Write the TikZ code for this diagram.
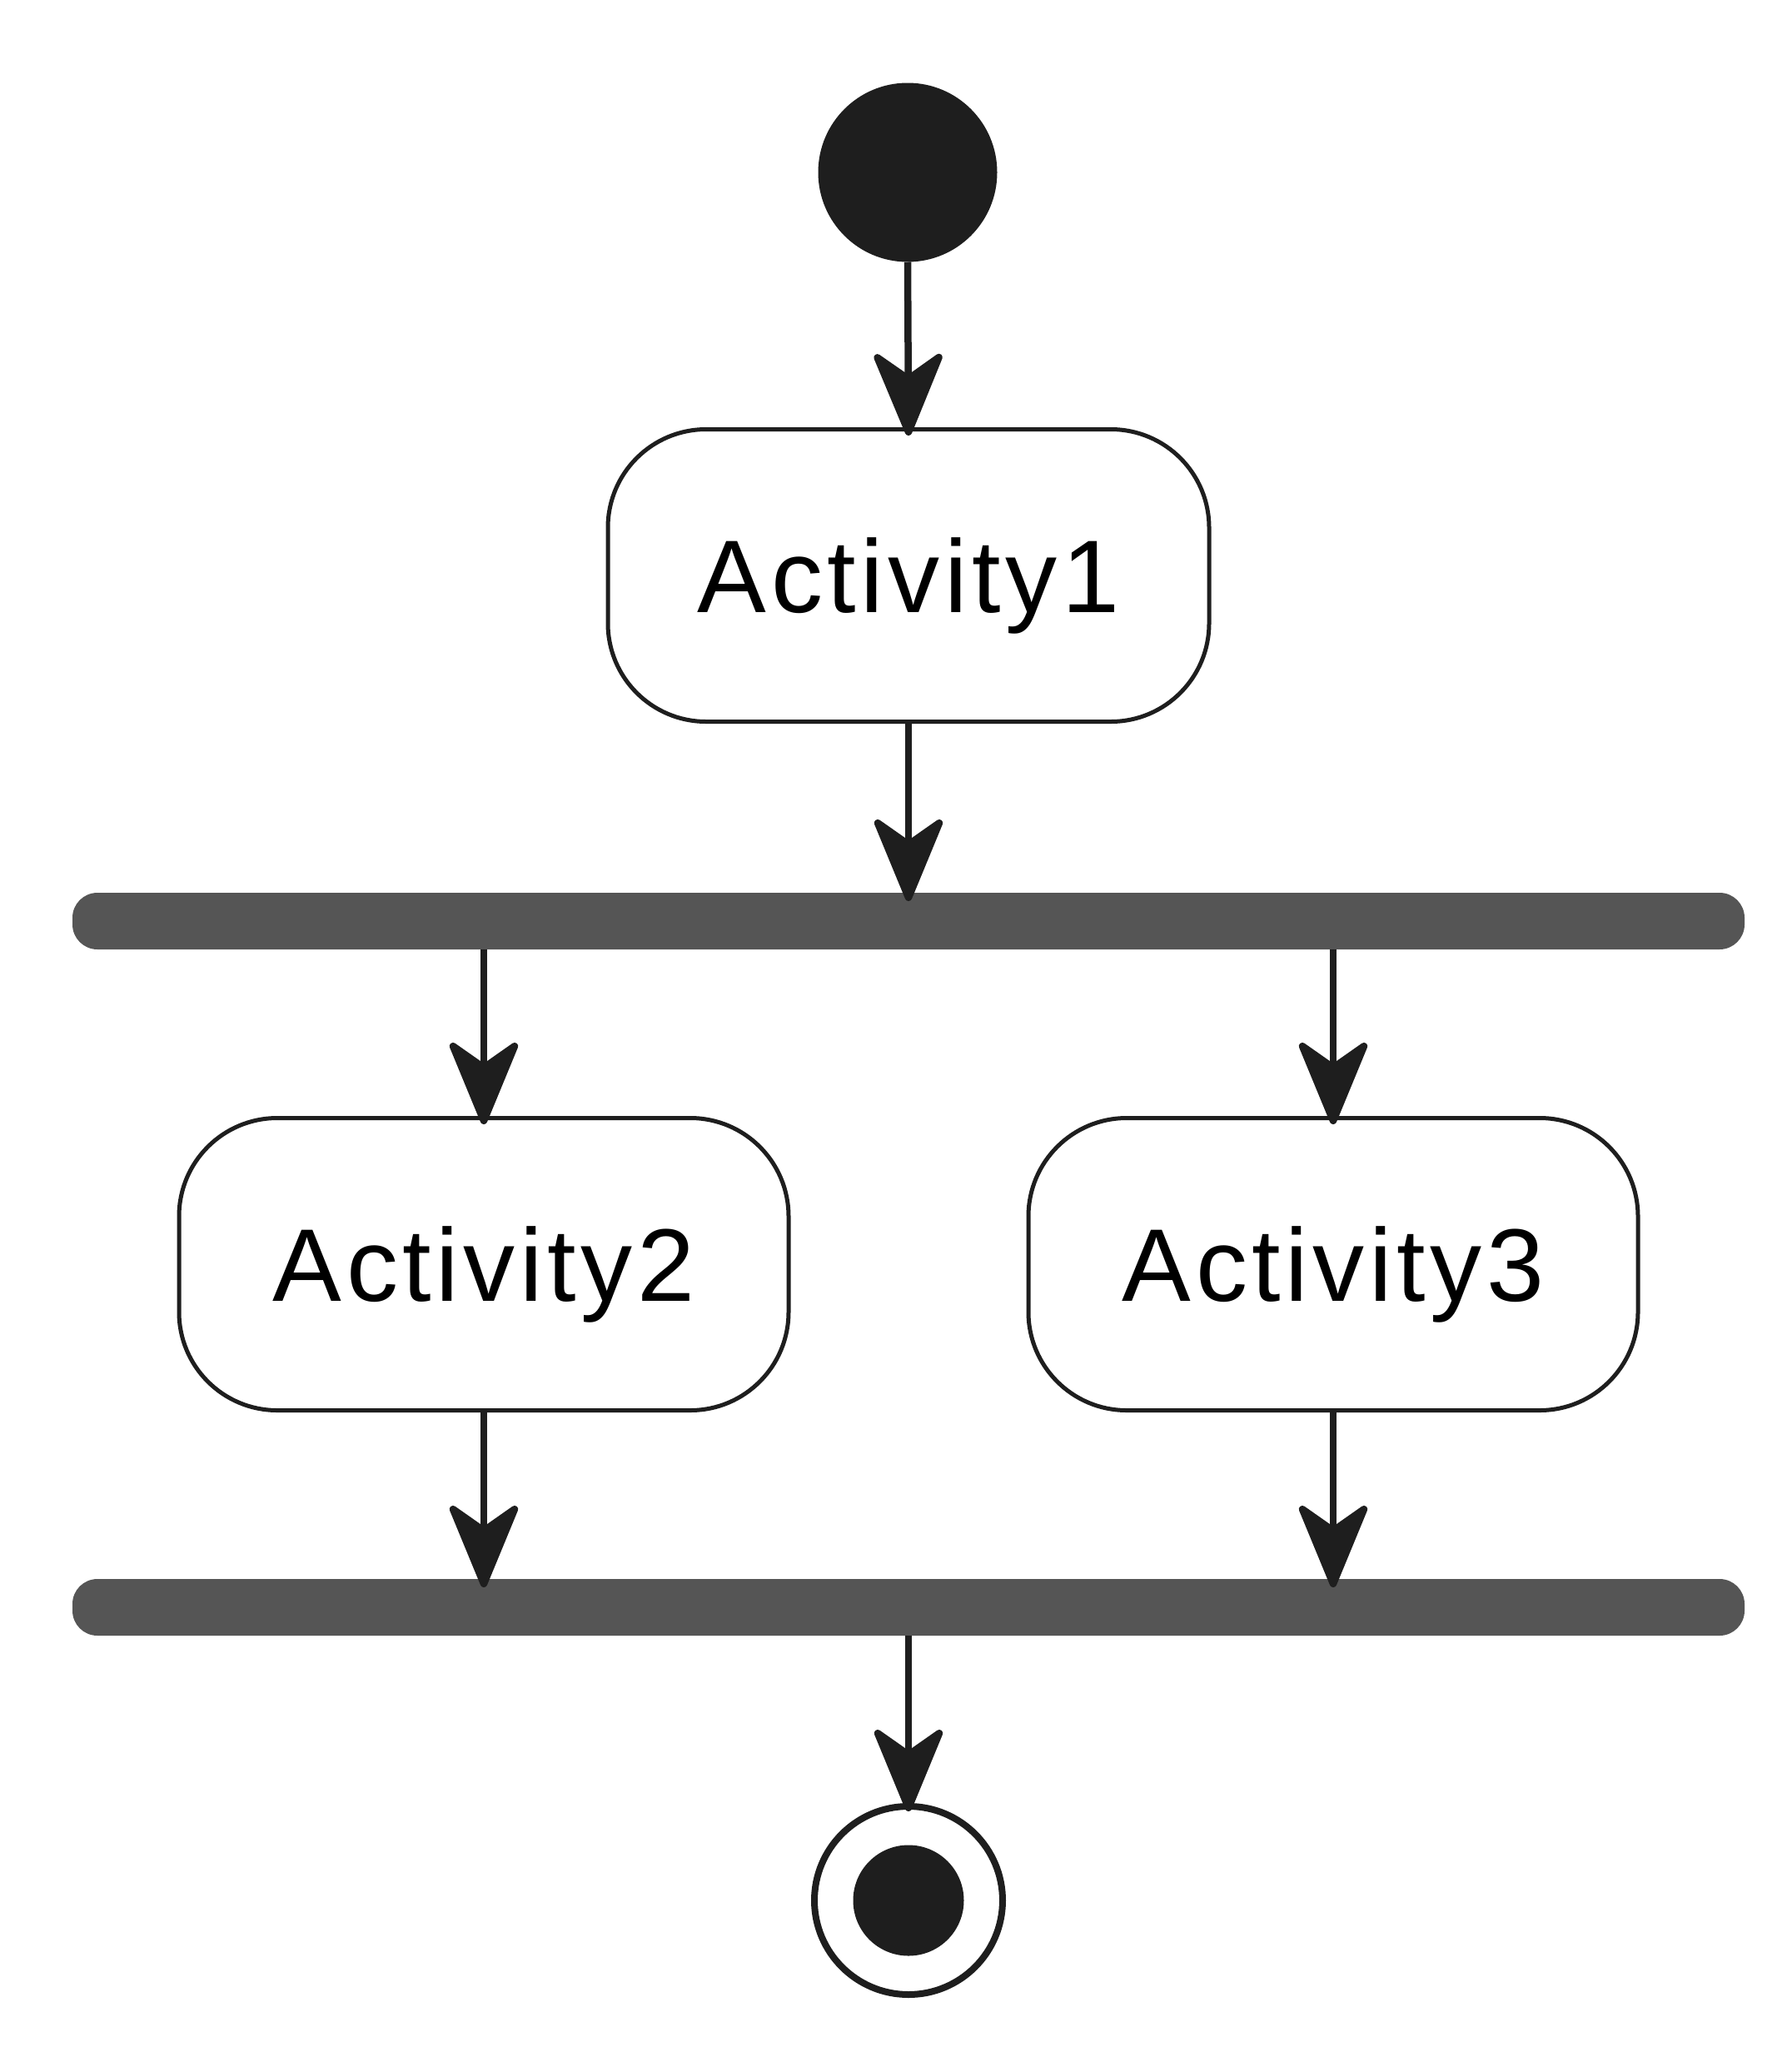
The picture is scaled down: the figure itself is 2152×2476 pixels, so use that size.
\documentclass[tikz,border=0pt]{standalone}
\usepackage{fontspec}
\setmainfont{Liberation Sans}
\newfontfamily\actfont[LetterSpace=4.5]{Liberation Sans}
\usetikzlibrary{arrows.meta}
\definecolor{barc}{HTML}{555555}
\definecolor{darkc}{HTML}{1E1E1E}
\begin{document}
\begin{tikzpicture}[x=1pt,y=-1pt,
  act/.style={draw=darkc, line width=5pt, rounded corners=118pt, fill=white,
    minimum width=722pt, minimum height=351pt, inner sep=0pt, text depth=0pt,
    font=\actfont\fontsize{124}{140}\selectfont},
  forkbar/.style={fill=barc, rounded corners=30pt, minimum width=2008pt,
    minimum height=68pt, inner sep=0pt, outer sep=0pt},
  flow/.style={line width=8.5pt, draw=darkc,
    -{Stealth[length=112pt,width=92pt,inset=32pt,round]}, shorten >=-10pt}
]
\useasboundingbox (0,0) rectangle (2152,2476);
\node[circle, fill=darkc, minimum size=215pt, inner sep=0pt, outer sep=0pt] (start) at (1090,207) {};
\node[act] (a1) at (1091,691) {Activity1};
\node[forkbar] (f1) at (1091,1106) {};
\node[act, minimum width=732pt] (a2) at (581,1518) {Activity2};
\node[act, minimum width=732pt] (a3) at (1601,1518) {Activity3};
\node[forkbar] (f2) at (1091,1930) {};
\node[circle, draw=darkc, line width=8pt, minimum size=226pt, inner sep=0pt] (end) at (1091,2282) {};
\node[circle, fill=darkc, minimum size=133pt, inner sep=0pt] (endin) at (end.center) {};

\draw[flow] (start.south) -- (a1.north);
\draw[flow] (a1.south) -- (f1.north -| a1.south);
\draw[flow] (f1.south -| a2.north) -- (a2.north);
\draw[flow] (f1.south -| a3.north) -- (a3.north);
\draw[flow] (a2.south) -- (f2.north -| a2.south);
\draw[flow] (a3.south) -- (f2.north -| a3.south);
\draw[flow] (f2.south -| end.north) -- (end.north);
\end{tikzpicture}
\end{document}
